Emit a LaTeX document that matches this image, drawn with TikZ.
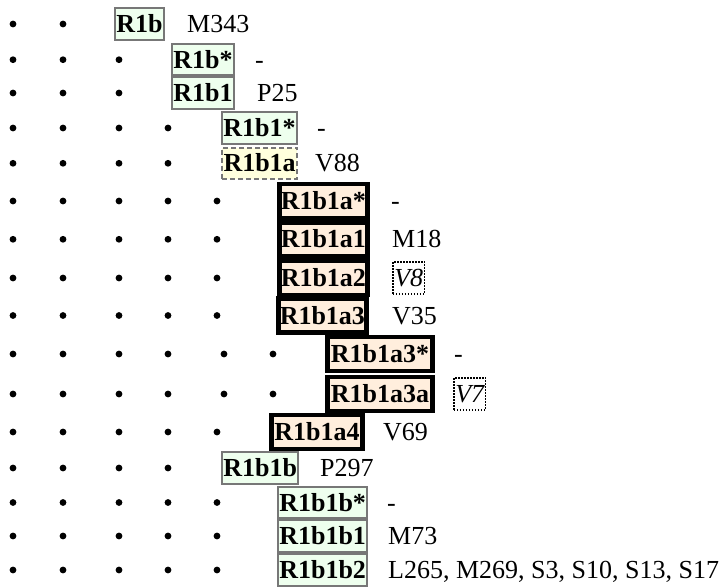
\documentclass[tikz,border=0pt]{standalone}
\usepackage{fontspec}
\setmainfont{Liberation Serif}
\definecolor{boxgray}{HTML}{777777}
\definecolor{greenfill}{HTML}{EEFFEE}
\definecolor{yellowfill}{HTML}{FFFFDD}
\definecolor{peachfill}{HTML}{FFEEDD}
\tikzset{
  hap/.style={font=\bfseries, text height=17pt, text depth=0pt, inner ysep=0pt, anchor=west},
  greenbox/.style={hap, draw=boxgray, fill=greenfill, line width=2pt, inner xsep=1.3pt, minimum height=31.5pt},
  dashbox/.style={hap, draw=boxgray, fill=yellowfill, line width=2pt, dash pattern=on 5pt off 3pt, inner xsep=1.5pt, minimum height=31.5pt},
  thickbox/.style={hap, draw=black, fill=peachfill, line width=4.5pt, inner xsep=1.5pt, minimum height=34pt},
  lbl/.style={text height=17pt, text depth=0pt, inner sep=0pt, anchor=west},
  dotbox/.style={lbl, font=\itshape, draw=black, line width=1.5pt, dash pattern=on 1.5pt off 1.5pt, inner xsep=1.5pt, minimum height=32pt},
  bullet/.style={fill=black}
}
\begin{document}
\fontsize{26pt}{31pt}\selectfont
\begin{tikzpicture}[x=1pt,y=-1pt]
\useasboundingbox (0,0) rectangle (728,588);

% list bullets: row centre / bullet x positions
\foreach \yy/\xs in {24/{13,63}, 59.7/{13,63,119}, 93/{13,63,119},
    128/{13,63,119,168}, 163.3/{13,63,119,168},
    201/{13,63,119,168,217}, 239.3/{13,63,119,168,217},
    278/{13,63,119,168,217}, 315.5/{13,63,119,168,217},
    354/{13,63,119,168,224,273}, 394/{13,63,119,168,224,273},
    432/{13,63,119,168,217}, 468/{13,63,119,168},
    502.5/{13,63,119,168,217}, 536/{13,63,119,168,217}, 570/{13,63,119,168,217}}
  \foreach \xx in \xs
    \fill[bullet] (\xx,\yy) circle (3.4pt);

% haplogroup boxes
\node[greenbox] (r1b)       at (114,24)    {R1b};
\node[greenbox] (r1bs)      at (171,59.7)  {R1b*};
\node[greenbox] (r1b1)      at (171,93)    {R1b1};
\node[greenbox] (r1b1s)     at (221,128)   {R1b1*};
\node[dashbox]  (r1b1a)     at (221,163.3) {R1b1a};
\node[thickbox] (r1b1as)    at (277,201)   {R1b1a*};
\node[thickbox] (r1b1a1)    at (277,239.3) {R1b1a1};
\node[thickbox] (r1b1a2)    at (277,278)   {R1b1a2};
\node[thickbox] (r1b1a3)    at (276,315.5) {R1b1a3};
\node[thickbox, inner xsep=3.6pt] (r1b1a3s) at (325,354) {R1b1a3*};
\node[thickbox, inner xsep=3.6pt] (r1b1a3a) at (325,394) {R1b1a3a};
\node[thickbox, inner xsep=3.1pt] (r1b1a4)  at (269,432) {R1b1a4};
\node[greenbox] (r1b1b)     at (221,468)   {R1b1b};
\node[greenbox] (r1b1bs)    at (277,502.5) {R1b1b*};
\node[greenbox] (r1b1b1)    at (277,536)   {R1b1b1};
\node[greenbox] (r1b1b2)    at (277,570)   {R1b1b2};

% defining markers
\node[lbl] (m1)  at (187,24)    {M343};
\node[lbl] (m2)  at (255,59.7)  {-};
\node[lbl] (m3)  at (257,93)    {P25};
\node[lbl] (m4)  at (317,128)   {-};
\node[lbl] (m5)  at (315,163.3) {V88};
\node[lbl] (m6)  at (391,201)   {-};
\node[lbl] (m7)  at (392,239.3) {M18};
\node[dotbox] (m8) at (392,278) {V8};
\node[lbl] (m9)  at (392,315.5) {V35};
\node[lbl] (m10) at (454,354)   {-};
\node[dotbox] (m11) at (453,394) {V7};
\node[lbl] (m12) at (383,432)   {V69};
\node[lbl] (m13) at (320,468)   {P297};
\node[lbl] (m14) at (387,502.5) {-};
\node[lbl] (m15) at (388,536)   {M73};
\node[lbl] (m16) at (388,570)   {L265, M269, S3, S10, S13, S17};
\end{tikzpicture}
\end{document}
